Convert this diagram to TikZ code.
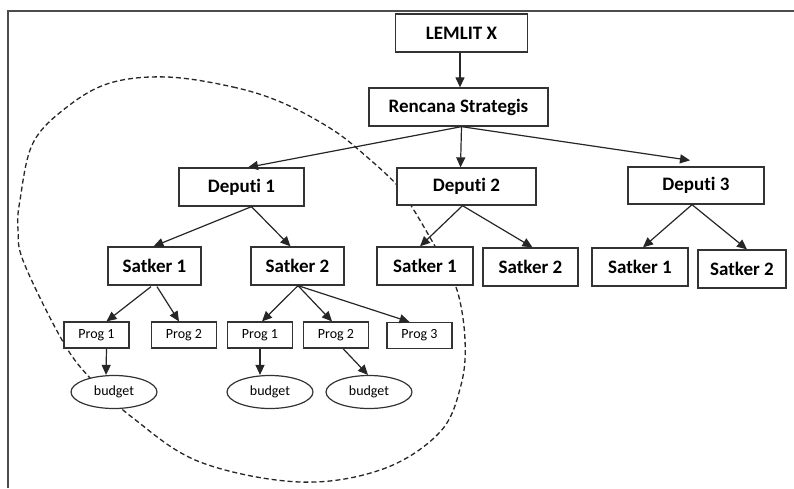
\documentclass[tikz,border=0pt]{standalone}
\usepackage{fontspec}
\setmainfont[Ligatures={NoCommon,NoRare}]{Carlito}
\usetikzlibrary{arrows.meta,calc,shapes.geometric}
\begin{document}
\begin{tikzpicture}[x=1pt,y=-1pt,
  bigbox/.style={draw=black!80, line width=1.3pt, fill=white, inner sep=0pt, font=\fontsize{19}{22}\selectfont\bfseries},
  progbox/.style={draw=black!80, line width=1.2pt, fill=white, inner sep=0pt, minimum width=65pt, minimum height=26pt, font=\fontsize{14}{16}\selectfont},
  budgetnode/.style={ellipse, draw=black!80, line width=1.2pt, fill=white, inner sep=0pt, minimum width=86pt, minimum height=33pt, font=\fontsize{14}{16}\selectfont},
  arr/.style={draw=black!85, line width=1.2pt, -{Triangle[length=10pt,width=9pt]}},
  dashloop/.style={draw=black!85, line width=1.3pt, dash pattern=on 5pt off 3pt}
]
\useasboundingbox (0,0) rectangle (794,488);
\draw[black!70, line width=1.5pt] (8,488) -- (8,11) -- (794,11);

% dashed loop
\draw[dashloop] plot[smooth cycle, tension=0.6] coordinates {
 (167,77) (233,87) (283,103) (333,130) (367,157) (397,185) (412,207)
 (437,250) (457,290) (465,340) (461,385) (440,432) (383,469) (300,482)
 (200,462) (133,418) (90,378) (62,340) (24,263) (18,230) (20,200)
 (33,143) (67,107) (110,83)};

% nodes
\node[bigbox, minimum width=132pt, minimum height=38pt] (lem) at (461.5,33) {LEMLIT X};
\node[bigbox, minimum width=179pt, minimum height=38pt] (ren) at (458.5,107) {Rencana Strategis};
\node[bigbox, minimum width=125pt, minimum height=38pt] (d1) at (241.5,187) {Deputi 1};
\node[bigbox, minimum width=139pt, minimum height=37pt] (d2) at (466.5,186.5) {Deputi 2};
\node[bigbox, minimum width=136pt, minimum height=37pt] (d3) at (696,185.5) {Deputi 3};
\node[bigbox, minimum width=93pt, minimum height=38pt] (s11) at (154.5,266) {Satker 1};
\node[bigbox, minimum width=93pt, minimum height=38pt] (s12) at (297.5,266) {Satker 2};
\node[bigbox, minimum width=96pt, minimum height=38pt] (s21) at (425,266) {Satker 1};
\node[bigbox, minimum width=95pt, minimum height=38pt] (s22) at (530.5,267) {Satker 2};
\node[bigbox, minimum width=96pt, minimum height=38pt] (s31) at (640,267) {Satker 1};
\node[bigbox, minimum width=88pt, minimum height=38pt] (s32) at (742,269) {Satker 2};
\node[progbox] (p11) at (96.5,335) {Prog 1};
\node[progbox] (p12) at (184,335) {Prog 2};
\node[progbox] (p21) at (260,335) {Prog 1};
\node[progbox] (p22) at (336,335) {Prog 2};
\node[progbox] (p23) at (419.5,335.5) {Prog 3};
\node[budgetnode] (b1) at (114,392) {budget};
\node[budgetnode] (b2) at (270,392) {budget};
\node[budgetnode] (b3) at (369,392) {budget};

% connectors
\draw[arr] ($(lem.south)+(-1.5,0)$) -- ($(ren.north)+(1.5,0)$);
\draw[arr] ($(ren.south)+(3,0)$) -- ($(d1.north)+(6.5,0)$);
\draw[arr] ($(ren.south)+(3,0)$) -- ($(d2.north)+(-6,0)$);
\draw[arr] ($(ren.south)+(3,0)$) -- ($(d3.north)+(-6,-6)$);
\draw[arr] ($(d1.south)+(10,0)$) -- ($(s11.north)+(-1,0)$);
\draw[arr] ($(d1.south)+(10,0)$) -- ($(s12.north)+(-7,0)$);
\draw[arr] ($(d2.south)+(-4,0)$) -- ($(s21.north)+(-5,0)$);
\draw[arr] ($(d2.south)+(-4,0)$) -- ($(s22.north)+(2,0)$);
\draw[arr] ($(d3.south)+(-4,0)$) -- ($(s31.north)+(3,0)$);
\draw[arr] ($(d3.south)+(-4,0)$) -- ($(s32.north)+(5,0)$);
\draw[arr] ($(s11.south)+(-3.5,1)$) -- ($(p11.north)+(10,0)$);
\draw[arr] ($(s11.south)+(2.5,1)$) -- ($(p12.north)+(-5,0)$);
\draw[arr] ($(s12.south)+(0.5,0)$) -- ($(p21.north)+(2,0)$);
\draw[arr] ($(s12.south)+(0.5,0)$) -- ($(p22.north)+(-4,0)$);
\draw[arr] ($(s12.south)+(0.5,0)$) -- ($(p23.north)+(-10,0)$);
\draw[arr] ($(p11.south)+(10,0)$) -- ($(b1.north)+(-8,0)$);
\draw[arr] ($(p21.south)+(0,0)$) -- ($(b2.north)+(-10,0)$);
\draw[arr] ($(p22.south)+(7,0)$) -- ($(b3.north)+(-1,0)$);
\end{tikzpicture}
\end{document}
